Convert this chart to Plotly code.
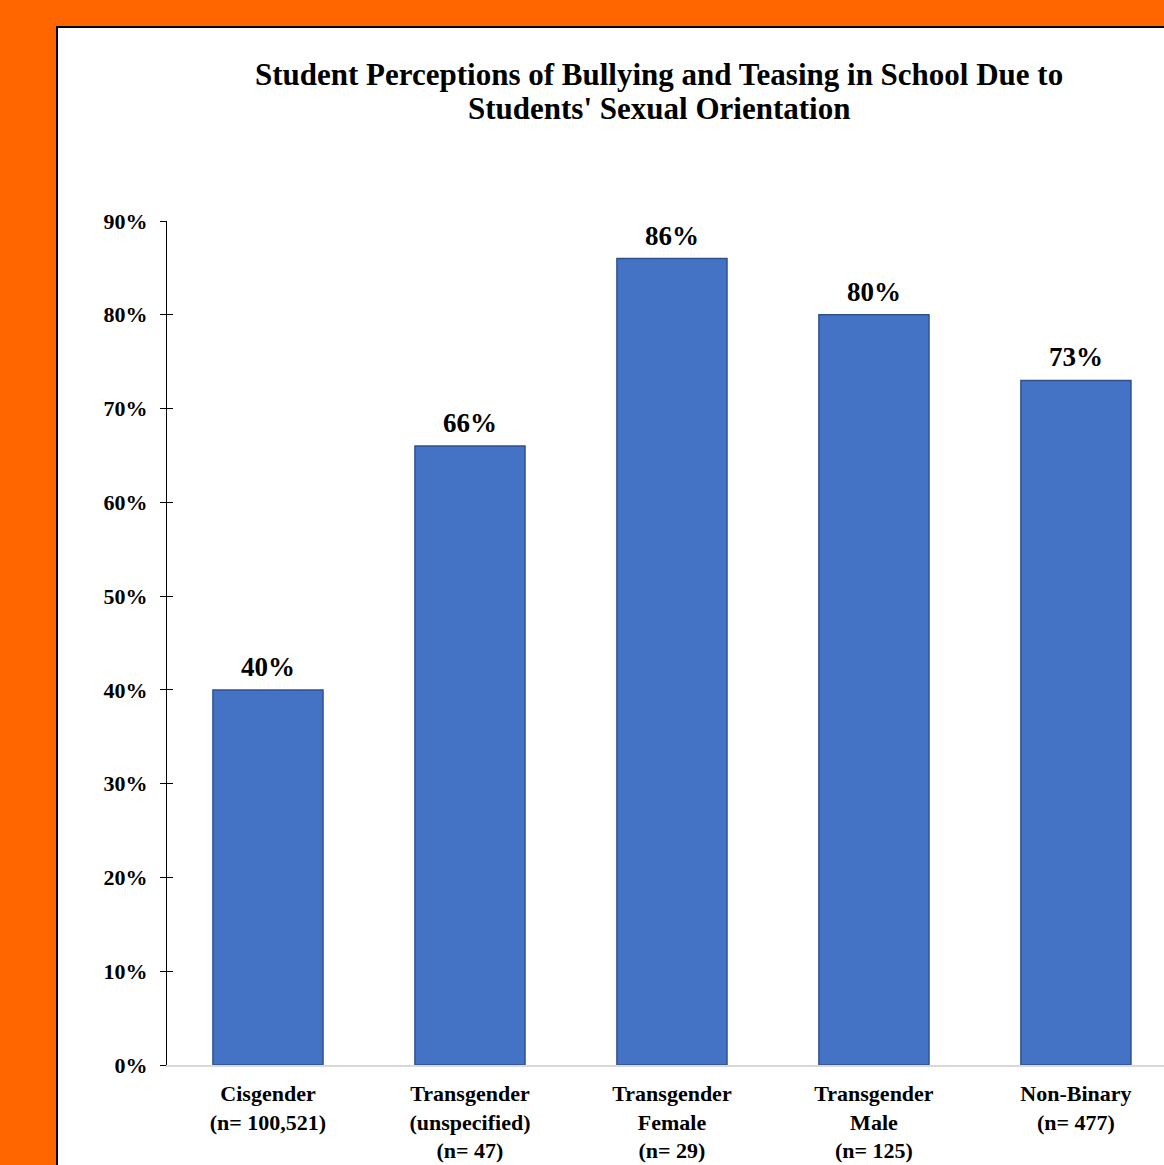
import plotly.graph_objects as go

categories = ["Cisgender<br>(n= 100,521)", "Transgender<br>(unspecified)<br>(n= 47)",
              "Transgender<br>Female<br>(n= 29)", "Transgender<br>Male<br>(n= 125)",
              "Non-Binary<br>(n= 477)"]
values = [40, 66, 86, 80, 73]
labels = [f"{v}%" for v in values]
tick_vals = list(range(0, 100, 10))
tick_text = [f"{v}%" for v in tick_vals]
title_lines = ["Student Perceptions of Bullying and Teasing in School Due to",
               "Students' Sexual Orientation"]

W, H = 1164, 1165
ml, mr, mt, mb = 167, 0, 221, 100
pw, ph = W - ml - mr, H - mt - mb

FONT = "Liberation Serif, Times New Roman, serif"

fig = go.Figure()
fig.add_trace(go.Bar(
    x=categories, y=values,
    marker=dict(color="#4472C4", line=dict(color="#2F528F", width=1.5)),
    cliponaxis=False, showlegend=False,
))
fig.add_trace(go.Scatter(x=[categories[0]], y=[0], yaxis="y2", mode="markers",
                         marker=dict(opacity=0), showlegend=False, hoverinfo="skip"))

# data labels
for c, v, t in zip(categories, values, labels):
    fig.add_annotation(x=c, y=v, text=t, showarrow=False, yanchor="bottom", yshift=6,
                       font=dict(family=FONT, size=27, color="black", weight="bold"))

# title lines
for i, line in enumerate(title_lines):
    fig.add_annotation(xref="paper", yref="paper", x=(659 - ml) / pw,
                       y=(H - mb - (75 + 34 * i)) / ph, text=line, showarrow=False,
                       xanchor="center", yanchor="middle",
                       font=dict(family=FONT, size=31, color="black", weight="bold"))

# white panel with black border
fig.add_shape(type="rect", xref="paper", yref="paper",
              x0=(57 - ml) / pw, x1=1.1, y0=-0.3, y1=(H - mb - 27) / ph,
              fillcolor="white", line=dict(color="black", width=2), layer="below")

fig.update_layout(
    width=W, height=H,
    margin=dict(l=ml, r=mr, t=mt, b=mb, pad=0),
    paper_bgcolor="#FF6600", plot_bgcolor="rgba(0,0,0,0)",
    bargap=0.455,
    xaxis=dict(range=[-0.5, 4.436], showline=True, linecolor="#D9D9D9", linewidth=1.5,
               ticks="", showgrid=False, ticklabelstandoff=8,
               tickfont=dict(family=FONT, size=22, color="black", weight="bold")),
    yaxis=dict(range=[0, 90], tickvals=tick_vals, ticktext=tick_text, showgrid=False,
               showline=True, linecolor="black", linewidth=1, ticks="outside", ticklen=6,
               tickcolor="black", zeroline=False, ticklabelstandoff=8,
               tickfont=dict(family=FONT, size=22, color="black", weight="bold")),
    yaxis2=dict(range=[0, 90], tickvals=tick_vals, overlaying="y", side="left",
                ticks="inside", ticklen=6, tickcolor="black", showticklabels=False,
                showgrid=False, showline=False, zeroline=False),
)

fig.write_html("out.html")
